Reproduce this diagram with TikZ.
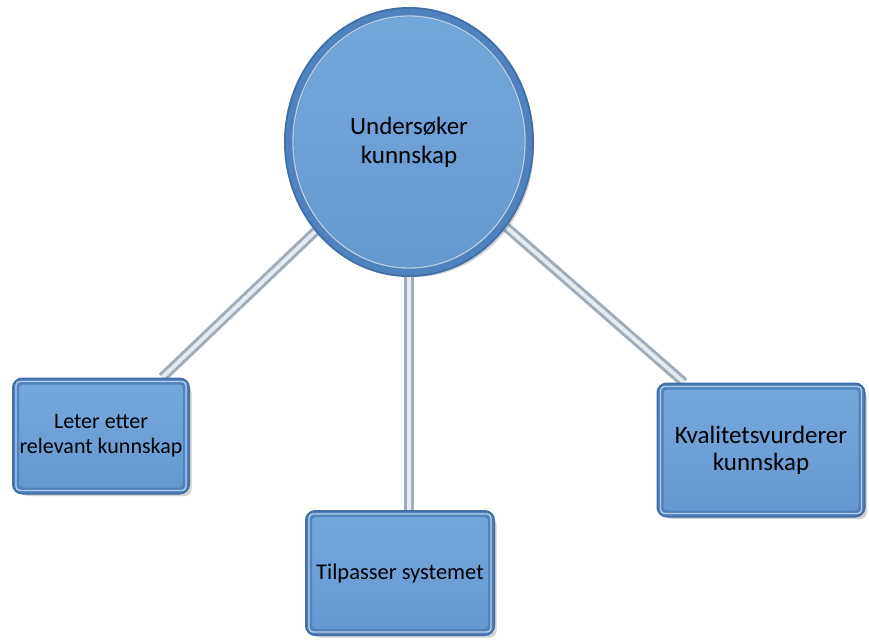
\documentclass[tikz,border=0pt]{standalone}
\usepackage{fontspec}
\setmainfont{Carlito}
\usetikzlibrary{shapes.geometric,shadows,backgrounds}

\definecolor{faceblue}{HTML}{74A8DD}
\definecolor{facebluedark}{HTML}{6598D0}
\definecolor{rimblue}{HTML}{4F82BE}
\definecolor{rimshade}{HTML}{2E5586}
\definecolor{tubeedge}{HTML}{A0ACBA}
\definecolor{tubecore}{HTML}{E6EBF1}

\tikzset{
  bevel/.style={
    draw=rimblue, line width=7pt,
    top color=faceblue, bottom color=facebluedark,
    drop shadow={shadow xshift=5pt, shadow yshift=-5pt, opacity=.3, fill=black!60},
    text=black, align=center, inner sep=0pt
  },
  tilebox/.style={bevel, rectangle, rounded corners=7pt},
  hubshape/.style={bevel, ellipse, line width=10pt},
  tube/.style={line width=10pt, draw=tubeedge, line cap=butt},
  tubeshine/.style={line width=4pt, draw=tubecore, line cap=butt},
  rimshine/.style={draw=white, opacity=.6, line width=1.3pt},
  rimdark/.style={draw=rimshade, opacity=.45, line width=1.5pt},
}

\begin{document}
\begin{tikzpicture}[x=1pt, y=-1pt]
  \useasboundingbox (0,0) rectangle (869,641);

  % hub and its three tasks
  \node[hubshape, minimum width=240pt, minimum height=260pt, font=\fontsize{25}{29}\selectfont]
    (hub) at (409,142) {Undersøker\\kunnskap};
  \node[tilebox, minimum width=171pt, minimum height=110pt, font=\fontsize{22}{25}\selectfont]
    (find) at (101,436) {Leter etter\\relevant kunnskap};
  \node[tilebox, minimum width=183pt, minimum height=119pt, font=\fontsize{22.5}{26}\selectfont]
    (adapt) at (400,573) {Tilpasser systemet};
  \node[tilebox, minimum width=202pt, minimum height=128pt, font=\fontsize{25}{27}\selectfont]
    (assess) at (761,450) {Kvalitetsvurderer\\kunnskap};

  % glossy highlights and darker outer edge on the rims
  \draw[rimshine] (hub.center) ellipse [x radius=116, y radius=126];
  \draw[rimdark] (hub.center) ellipse [x radius=124, y radius=134];
  \foreach \b in {find,adapt,assess}{
    \draw[rimshine, rounded corners=4pt]
      ([shift={(4,4)}]\b.north west) rectangle ([shift={(-4,-4)}]\b.south east);
    \draw[rimdark, rounded corners=9pt]
      ([shift={(1,1)}]\b.north west) rectangle ([shift={(-1,-1)}]\b.south east);
  }

  % connecting tubes, behind the shapes
  \begin{pgfonlayer}{background}
    \draw[tube] (find) -- (hub);
    \draw[tubeshine] (find) -- (hub);
    \draw[tube] (assess) -- (hub);
    \draw[tubeshine] (assess) -- (hub);
    \draw[tube] (hub.center) -- (hub.center |- adapt.north);
    \draw[tubeshine] (hub.center) -- (hub.center |- adapt.north);
  \end{pgfonlayer}
\end{tikzpicture}
\end{document}
